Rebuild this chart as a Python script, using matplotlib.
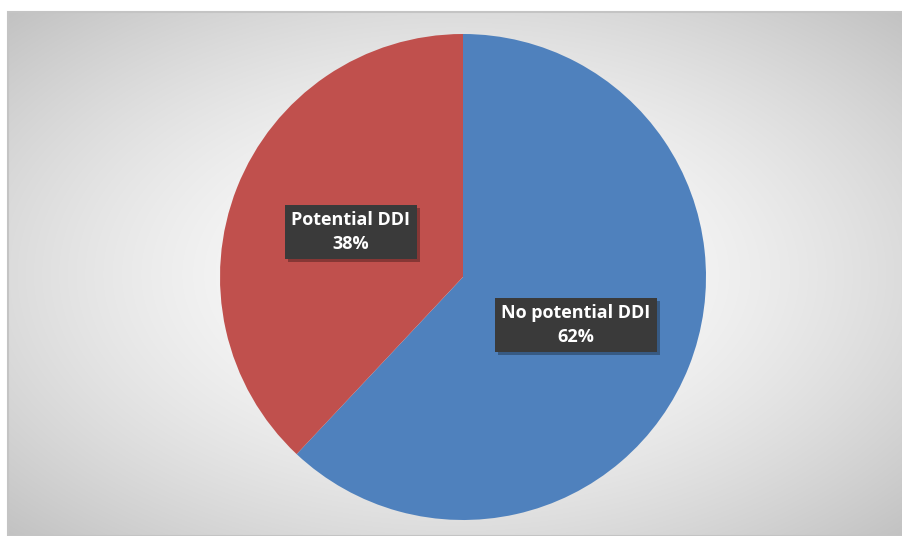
import numpy as np
import matplotlib
matplotlib.use("Agg")
import matplotlib.pyplot as plt
from matplotlib.patches import Rectangle

labels = ["No potential DDI", "Potential DDI"]
values = [62, 38]
colors = ["#4F81BD", "#C0504D"]

W, H = 903, 536
fig = plt.figure(figsize=(W / 100, H / 100), dpi=100)
fig.patch.set_facecolor("white")

# background with radial gradient
bx0, by0 = 8, 12
bg = fig.add_axes([bx0 / W, 0, 1 - bx0 / W, 1 - by0 / H])
bg.set_axis_off()
yy, xx = np.mgrid[0:H - by0, 0:W - bx0]
cx, cy = (W - bx0) / 2, (H - by0) / 2
r = np.sqrt(((xx - cx) / cx) ** 2 + ((yy - cy) / cy) ** 2) / np.sqrt(2)
v = 1.0 - 0.24 * np.clip(r, 0, 1) ** 1.6
img = np.dstack([v, v, v])
bg.imshow(img, aspect="auto", extent=[0, 1, 0, 1], origin="upper")
bg.add_patch(Rectangle((0, 0), 1, 1, transform=bg.transAxes, fill=False,
                       edgecolor="#c4c4c4", linewidth=1.5, clip_on=False))

# pie
pcx, pcy, pr = 463, 277, 243
ax = fig.add_axes([(pcx - pr) / W, (H - pcy - pr) / H, 2 * pr / W, 2 * pr / H])
ax.pie(values, colors=colors, startangle=90, counterclock=False,
       wedgeprops=dict(linewidth=0))
ax.set_xlim(-1, 1)
ax.set_ylim(-1, 1)
ax.set_aspect("auto")
ax.set_axis_off()

# labels
label_pos = {"No potential DDI": (576, 325), "Potential DDI": (351, 232)}
texts = []
for lab, val in zip(labels, values):
    px, py = label_pos[lab]
    t = fig.text(px / W, 1 - py / H, f"{lab}\n{val}%", ha="center", va="center",
                 fontsize=13, fontweight="bold", family="Open Sans", color="white",
                 linespacing=1.4, zorder=5,
                 bbox=dict(boxstyle="square,pad=0.35", facecolor="#3a3a3a",
                           edgecolor="none"))
    texts.append(t)

fig.canvas.draw()
renderer = fig.canvas.get_renderer()
for t in texts:
    bb = t.get_bbox_patch().get_window_extent(renderer)
    fig.patches.append(Rectangle((bb.x0 + 3, bb.y0 - 3), bb.width, bb.height,
                                 transform=None, facecolor="black", alpha=0.3,
                                 edgecolor="none", zorder=4, figure=fig))

fig.savefig("out.png", dpi=100)
